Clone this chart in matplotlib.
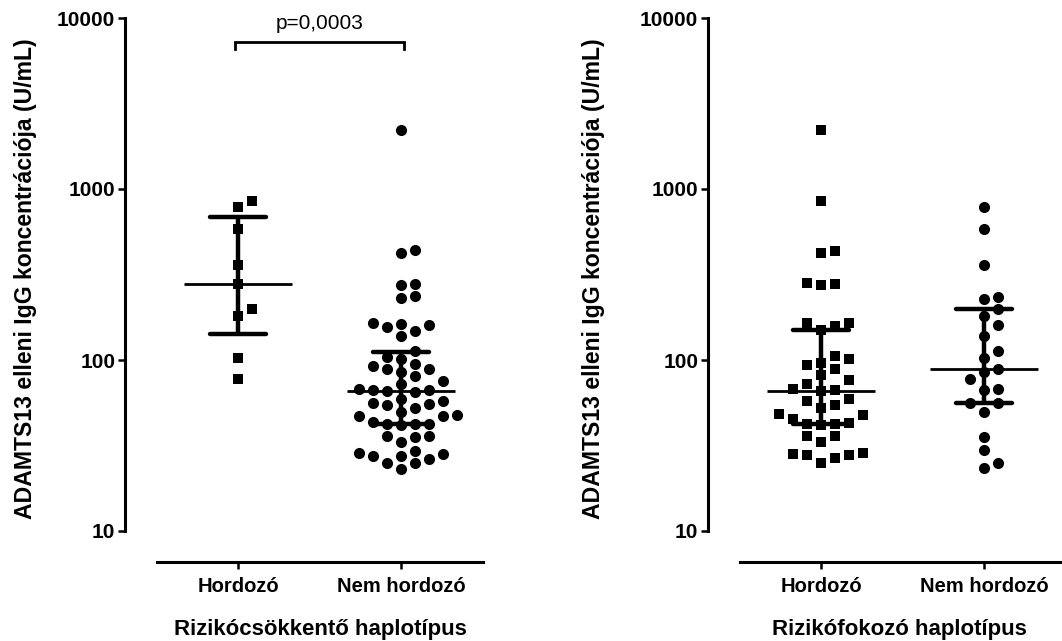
import numpy as np
import matplotlib
matplotlib.use("Agg")
import matplotlib.pyplot as plt

plt.rcParams['font.family'] = ['Liberation Sans', 'DejaVu Sans']

# ---------------- data ----------------
categories = ["Hordozó", "Nem hordozó"]
ylabel_text = "ADAMTS13 elleni IgG koncentrációja (U/mL)"
xlabel_left = "Rizikócsökkentő haplotípus"
xlabel_right = "Rizikófokozó haplotípus"
p_text = "p=0,0003"
ytick_values = [10, 100, 1000, 10000]
ytick_labels = ["10", "100", "1000", "10000"]

# Left panel (Rizikócsökkentő haplotípus)
left_carrier = [854, 781, 586, 359, 278, 199, 182, 103, 77]
left_noncarrier = [2205, 440, 424, 279, 273, 237, 229, 165, 162, 160, 155, 148,
                   138, 113, 104, 101, 94.8, 92.2, 88.6, 88.2, 85.1, 81.0, 75.7,
                   72.1, 67.4, 67.0, 66.4, 65.9, 65.0, 59.1, 57.8, 55.8, 55.6,
                   54.6, 52.2, 49.6, 47.9, 47.2, 46.8, 43.6, 42.4, 42.2, 41.9,
                   42.0, 35.9, 35.8, 35.5, 33.0, 29.5, 28.5, 28.1, 27.6, 27.5,
                   26.3, 25.1, 24.9, 23.0]
left_median = [278, 65.6]
left_q1 = [142, 42.2]
left_q3 = [686, 111]

# Right panel (Rizikófokozó haplotípus)
right_carrier = [2205, 854, 436, 424, 281, 274, 279, 165, 158, 150, 164, 101,
                 105.5, 93.5, 95.6, 88.2, 81.7, 76.4, 72.4, 67.4, 66.1, 66.5,
                 59.4, 54.6, 57.8, 52.2, 48.1, 45.2, 47.5, 42.2, 41.7, 42.0,
                 42.6, 35.9, 33.3, 35.8, 28.2, 27.8, 25.1, 26.6, 27.7, 28.5]
right_noncarrier = [781, 586, 359, 234.6, 226.5, 199.5, 180.8, 159.5, 138,
                    112.9, 102.3, 88.6, 85.4, 77.1, 67.4, 66.4, 56.3, 56.0,
                    49.9, 35.5, 29.8, 24.9, 23.3]
right_median = [66.1, 88.2]
right_q1 = [42.0, 56.3]
right_q3 = [150, 199.5]

# ---------------- layout ----------------
W, H = 1062, 641
fig = plt.figure(figsize=(W / 100, H / 100), dpi=100)

PX_PER_DEC = 171.0
SLOT = 14.0 / 163.0          # horizontal slot width in data units
COLLIDE = 11.5 / PX_PER_DEC  # vertical collision distance (decades)


def swarm_offsets(values):
    logv = np.log10(np.asarray(values, dtype=float))
    order = np.argsort(logv, kind="stable")
    offsets = np.zeros(len(logv))
    placed = {}
    for i in order:
        k = 0
        while True:
            s = (k + 1) // 2 * (1 if k % 2 else -1)
            others = placed.get(s, [])
            if all(abs(logv[i] - o) >= COLLIDE for o in others):
                placed.setdefault(s, []).append(logv[i])
                offsets[i] = s * SLOT
                break
            k += 1
    return offsets


def make_axes(x0, x1, y_top, y_bot, cat0_px):
    ax = fig.add_axes([x0 / W, 1 - y_bot / H, (x1 - x0) / W, (y_bot - y_top) / H])
    ax.set_yscale("log")
    ymin = 10 ** (4 - (y_bot - y_top) / PX_PER_DEC)
    ax.set_ylim(ymin, 10000)
    ax.set_xlim((x0 - cat0_px) / 163.0, (x1 - cat0_px) / 163.0)
    return ax


def style_axes(ax, xaxis_start, xlabel, xlabel_pos, ylabel_pos):
    for s in ("top", "right"):
        ax.spines[s].set_visible(False)
    ax.spines["left"].set_linewidth(2.2)
    ax.spines["bottom"].set_linewidth(2.2)
    ax.spines["left"].set_bounds(10, 10000)
    ax.spines["bottom"].set_bounds(xaxis_start, ax.get_xlim()[1])
    ax.set_yticks(ytick_values)
    ax.set_yticklabels(ytick_labels)
    ax.yaxis.set_minor_locator(matplotlib.ticker.NullLocator())
    ax.set_xticks([0, 1])
    ax.set_xticklabels(categories)
    ax.tick_params(axis="y", direction="out", length=5, width=1.8, pad=2,
                   labelsize=15)
    ax.tick_params(axis="x", direction="out", length=5, width=1.8, pad=6,
                   labelsize=14.5)
    for lab in ax.get_xticklabels() + ax.get_yticklabels():
        lab.set_fontweight("bold")
    ax.set_xlabel(xlabel, fontsize=16, fontweight="bold")
    ax.xaxis.set_label_coords(xlabel_pos, -0.105)
    ax.set_ylabel(ylabel_text, fontsize=16.6, fontweight="bold")
    ax.yaxis.set_label_coords(ylabel_pos, 0.52)


def draw_group(ax, x, vals, marker, ms, med, q1, q3):
    off = swarm_offsets(vals)
    ax.plot(x + off, vals, ls="none", marker=marker, ms=ms, mew=0,
            color="black", zorder=3, clip_on=False)
    ax.hlines(med, x - 0.33, x + 0.33, color="black", lw=2.0, zorder=4)
    ax.vlines(x, q1, q3, color="black", lw=3.2, zorder=4)
    ax.hlines([q1, q3], x - 0.172, x + 0.172, color="black", lw=3.2,
              zorder=4, capstyle="round")


# Left panel
axL = make_axes(125, 483, 18, 562, 238)
draw_group(axL, 0, left_carrier, "s", 7.6, left_median[0], left_q1[0], left_q3[0])
draw_group(axL, 1, left_noncarrier, "o", 8.0, left_median[1], left_q1[1], left_q3[1])
style_axes(axL, -0.497, xlabel_left, 0.545, -0.245)

# significance bracket
bx0, bx1 = -0.018, 1.021
y_bar = 10 ** (4 - (41.7 - 18) / PX_PER_DEC)
y_end = 10 ** (4 - (49 - 18) / PX_PER_DEC)
axL.plot([bx0, bx0, bx1, bx1], [y_end, y_bar, y_bar, y_end], color="black",
         lw=2.0, clip_on=False, solid_joinstyle="miter")
axL.text(0.5, 10 ** (4 - (29 - 18) / PX_PER_DEC), p_text, ha="center",
         va="baseline", fontsize=15)

# Right panel
axR = make_axes(708, 1062, 18, 562, 821)
draw_group(axR, 0, right_carrier, "s", 7.6, right_median[0], right_q1[0], right_q3[0])
draw_group(axR, 1, right_noncarrier, "o", 8.0, right_median[1], right_q1[1], right_q3[1])
style_axes(axR, -0.497, xlabel_right, 0.54, -0.29)

fig.savefig("out.png", dpi=100)
